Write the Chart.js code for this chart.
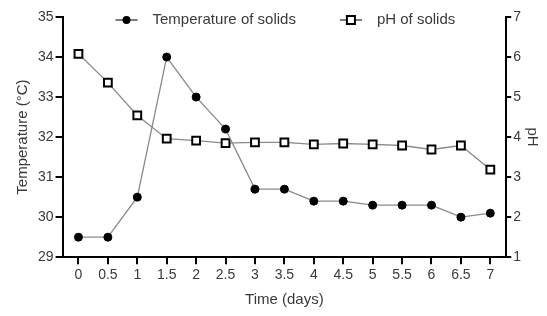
<!DOCTYPE html>
<html>
<head>
<meta charset="utf-8">
<script src="https://cdn.jsdelivr.net/npm/chart.js@4"></script>
<style>
  html, body { margin: 0; padding: 0; background: #fff; }
  #wrap { width: 547px; height: 316px; }
</style>
</head>
<body>
<div id="wrap"><canvas id="myChart" width="547" height="316"></canvas></div>
<script>
const days = [0, 0.5, 1, 1.5, 2, 2.5, 3, 3.5, 4, 4.5, 5, 5.5, 6, 6.5, 7];
const temperature = [29.5, 29.5, 30.5, 34.0, 33.0, 32.2, 30.7, 30.7, 30.4, 30.4, 30.3, 30.3, 30.3, 30.0, 30.1];
const ph = [6.08, 5.36, 4.54, 3.96, 3.91, 3.85, 3.87, 3.87, 3.82, 3.84, 3.82, 3.79, 3.69, 3.79, 3.19];

const textColor = '#3a3a3a';
const lineColor = '#8a8a8a';
Chart.defaults.font.family = "'Liberation Sans', Arial, sans-serif";
Chart.defaults.color = textColor;

// legend drawn inside the top of the plot, each entry = line + marker + label
const innerLegend = {
    id: 'innerLegend',
    afterDatasetsDraw(chart) {
        const ctx = chart.ctx;
        const area = chart.chartArea;
        const iconW = 22, gapIcon = 15, gapItem = 44;
        ctx.save();
        ctx.font = "15px 'Liberation Sans', Arial, sans-serif";
        const items = chart.data.datasets.map(ds => ({ ds: ds, w: ctx.measureText(ds.label).width }));
        let total = 0;
        items.forEach((it, i) => { total += iconW + gapIcon + it.w + (i ? gapItem : 0); });
        let x = (area.left + area.right) / 2 - total / 2 + 1;
        const y = area.top + 3;
        items.forEach(it => {
            const ds = it.ds;
            ctx.strokeStyle = '#333';
            ctx.lineWidth = 1.3;
            ctx.beginPath(); ctx.moveTo(x, y); ctx.lineTo(x + iconW, y); ctx.stroke();
            const cx = x + iconW / 2;
            if (ds.pointStyle === 'circle') {
                ctx.fillStyle = '#000';
                ctx.beginPath(); ctx.arc(cx, y, 4, 0, Math.PI * 2); ctx.fill();
            } else {
                ctx.fillStyle = '#fff';
                ctx.fillRect(cx - 4, y - 4, 8, 8);
                ctx.strokeStyle = '#000';
                ctx.lineWidth = 2;
                ctx.strokeRect(cx - 4, y - 4, 8, 8);
            }
            ctx.fillStyle = textColor;
            ctx.textBaseline = 'middle';
            ctx.textAlign = 'left';
            ctx.fillText(ds.label, x + iconW + gapIcon, y);
            x += iconW + gapIcon + it.w + gapItem;
        });
        ctx.restore();
    }
};

const axisGrid = { drawOnChartArea: false, color: '#000', lineWidth: 2, tickLength: 7 };
const axisBorder = { color: '#000', width: 2 };

new Chart("myChart", {
    type: "line",
    data: {
        datasets: [{
            label: "Temperature of solids",
            data: days.map((d, i) => ({ x: d, y: temperature[i] })),
            yAxisID: "y",
            borderColor: lineColor,
            borderWidth: 1.3,
            pointStyle: "circle",
            pointRadius: 4,
            pointBackgroundColor: "#000",
            pointBorderColor: "#000",
            pointBorderWidth: 1
        }, {
            label: "pH of solids",
            data: days.map((d, i) => ({ x: d, y: ph[i] })),
            yAxisID: "y1",
            borderColor: lineColor,
            borderWidth: 1.3,
            pointStyle: "rect",
            pointRadius: 5.5,
            pointBackgroundColor: "#fff",
            pointBorderColor: "#000",
            pointBorderWidth: 2
        }]
    },
    plugins: [innerLegend],
    options: {
        responsive: false,
        animation: false,
        layout: { padding: { top: 17, right: 0, left: 10, bottom: 5 } },
        plugins: {
            tooltip: { enabled: false },
            legend: { display: false }
        },
        scales: {
            x: {
                type: 'linear',
                min: -0.27,
                max: 7.27,
                grid: axisGrid,
                border: axisBorder,
                ticks: {
                    stepSize: 0.5, includeBounds: false, font: { size: 14 }, color: textColor,
                    maxRotation: 0, autoSkip: false, padding: 3,
                    callback: value => String(value)
                },
                title: { display: true, text: 'Time (days)', font: { size: 15 }, color: textColor, padding: { top: 4, bottom: 2 } }
            },
            y: {
                position: 'left',
                min: 29,
                max: 35,
                grid: axisGrid,
                border: axisBorder,
                ticks: { stepSize: 1, font: { size: 14 }, color: textColor, padding: 2 },
                title: { display: true, text: 'Temperature (°C)', font: { size: 15 }, color: textColor }
            },
            y1: {
                position: 'right',
                min: 1,
                max: 7,
                grid: Object.assign({}, axisGrid, { tickLength: 5 }),
                border: axisBorder,
                ticks: { stepSize: 1, font: { size: 14 }, color: textColor, padding: 2 },
                title: { display: true, text: 'pH', font: { size: 15 }, color: textColor, padding: { top: 6, bottom: 0 } }
            }
        }
    }
});
</script>
</body>
</html>
